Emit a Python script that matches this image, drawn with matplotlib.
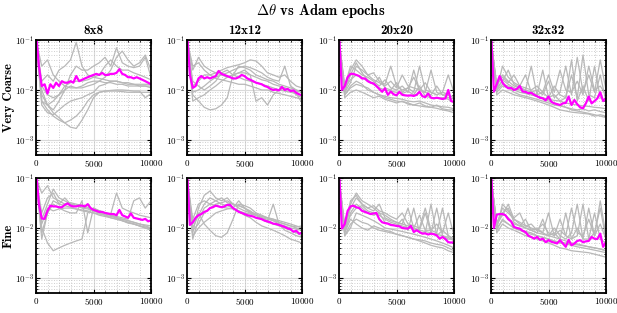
import numpy as np
import matplotlib.pyplot as plt
from matplotlib.ticker import LogLocator, MultipleLocator, NullFormatter

plt.rcParams['font.family'] = 'serif'
plt.rcParams['font.serif'] = ['cmr10']
plt.rcParams['mathtext.fontset'] = 'cm'
plt.rcParams['axes.formatter.use_mathtext'] = True

# epochs for the mean curve (every 250) and the single runs (every 500)
epochs_mean = np.arange(0, 10001, 250)
epochs_run = np.arange(0, 10001, 500)

grids = ["8x8", "12x12", "20x20", "32x32"]
levels = ["Very Coarse", "Fine"]

#%% Very Coarse
mean_8_vc = [0.15, 0.03, 0.012, 0.013, 0.0085, 0.013, 0.011, 0.014, 0.012, 0.015, 0.014, 0.014,
             0.015, 0.014, 0.019, 0.015, 0.016, 0.017, 0.018, 0.019, 0.020, 0.021, 0.020, 0.022,
             0.020, 0.020, 0.021, 0.021, 0.022, 0.026, 0.021, 0.020, 0.018, 0.018, 0.017, 0.018,
             0.017, 0.016, 0.015, 0.014, 0.013]
runs_8_vc = [
    [0.1, 0.006, 0.004, 0.003, 0.0025, 0.0022, 0.0025, 0.003, 0.004, 0.006, 0.008, 0.009, 0.0095, 0.0095, 0.0095, 0.0093, 0.009, 0.009, 0.009, 0.009, 0.009],
    [0.1, 0.008, 0.005, 0.0035, 0.0028, 0.0022, 0.0018, 0.0017, 0.0025, 0.004, 0.007, 0.009, 0.0095, 0.0098, 0.01, 0.01, 0.0098, 0.0095, 0.0095, 0.007, 0.0085],
    [0.1, 0.015, 0.02, 0.015, 0.025, 0.03, 0.04, 0.09, 0.03, 0.02, 0.018, 0.017, 0.016, 0.015, 0.015, 0.014, 0.013, 0.013, 0.012, 0.012, 0.011],
    [0.1, 0.01, 0.005, 0.004, 0.006, 0.01, 0.02, 0.03, 0.025, 0.025, 0.03, 0.035, 0.045, 0.03, 0.07, 0.035, 0.03, 0.028, 0.03, 0.045, 0.018],
    [0.1, 0.006, 0.005, 0.006, 0.008, 0.012, 0.014, 0.015, 0.015, 0.016, 0.018, 0.02, 0.03, 0.04, 0.03, 0.025, 0.025, 0.022, 0.02, 0.018, 0.016],
    [0.1, 0.012, 0.008, 0.007, 0.008, 0.01, 0.012, 0.011, 0.012, 0.014, 0.015, 0.015, 0.014, 0.014, 0.013, 0.013, 0.012, 0.012, 0.012, 0.012, 0.012],
    [0.1, 0.03, 0.04, 0.02, 0.015, 0.012, 0.011, 0.011, 0.011, 0.012, 0.013, 0.015, 0.018, 0.025, 0.045, 0.06, 0.04, 0.03, 0.035, 0.05, 0.025],
    [0.1, 0.005, 0.0035, 0.0032, 0.004, 0.005, 0.006, 0.0065, 0.007, 0.008, 0.009, 0.012, 0.013, 0.015, 0.015, 0.014, 0.014, 0.013, 0.013, 0.013, 0.013],
]

mean_12_vc = [0.15, 0.02, 0.011, 0.012, 0.017, 0.019, 0.017, 0.018, 0.017, 0.018, 0.019, 0.024,
              0.021, 0.020, 0.019, 0.018, 0.017, 0.017, 0.018, 0.020, 0.019, 0.017, 0.016, 0.015,
              0.014, 0.0135, 0.013, 0.012, 0.0115, 0.0105, 0.010, 0.0102, 0.0098, 0.0115, 0.0100,
              0.0105, 0.0095, 0.0098, 0.0088, 0.0082, 0.0078]
runs_12_vc = [
    [0.1, 0.008, 0.006, 0.0045, 0.004, 0.0042, 0.005, 0.007, 0.02, 0.03, 0.028, 0.025, 0.02, 0.018, 0.016, 0.015, 0.013, 0.012, 0.011, 0.01, 0.009],
    [0.1, 0.012, 0.015, 0.02, 0.02, 0.022, 0.025, 0.028, 0.03, 0.032, 0.035, 0.04, 0.038, 0.03, 0.022, 0.02, 0.018, 0.02, 0.015, 0.012, 0.011],
    [0.1, 0.025, 0.045, 0.03, 0.025, 0.022, 0.02, 0.018, 0.02, 0.022, 0.025, 0.02, 0.006, 0.007, 0.005, 0.008, 0.01, 0.011, 0.01, 0.008, 0.007],
    [0.1, 0.009, 0.01, 0.012, 0.015, 0.018, 0.02, 0.022, 0.025, 0.028, 0.03, 0.028, 0.025, 0.022, 0.018, 0.016, 0.015, 0.03, 0.012, 0.01, 0.009],
    [0.1, 0.03, 0.035, 0.025, 0.02, 0.017, 0.016, 0.015, 0.014, 0.013, 0.013, 0.012, 0.011, 0.01, 0.01, 0.009, 0.0085, 0.008, 0.0075, 0.007, 0.0065],
    [0.1, 0.015, 0.012, 0.01, 0.012, 0.015, 0.022, 0.025, 0.02, 0.018, 0.016, 0.015, 0.014, 0.013, 0.012, 0.011, 0.01, 0.0095, 0.009, 0.0085, 0.0055],
    [0.1, 0.006, 0.007, 0.008, 0.01, 0.012, 0.015, 0.018, 0.02, 0.022, 0.022, 0.02, 0.018, 0.016, 0.015, 0.013, 0.012, 0.011, 0.01, 0.0095, 0.009],
]

mean_20_vc = [0.15, 0.010, 0.012, 0.018, 0.021, 0.021, 0.020, 0.019, 0.017, 0.017, 0.015, 0.014,
              0.0135, 0.012, 0.0105, 0.0092, 0.0108, 0.0080, 0.0093, 0.0082, 0.0078, 0.0092, 0.0080,
              0.0078, 0.0077, 0.0078, 0.0076, 0.0080, 0.0092, 0.0075, 0.0072, 0.0085, 0.0070,
              0.0068, 0.0070, 0.0068, 0.0066, 0.0068, 0.0100, 0.0060, 0.0058]
runs_20_vc = [
    [0.1, 0.012, 0.03, 0.025, 0.02, 0.018, 0.015, 0.012, 0.016, 0.011, 0.01, 0.012, 0.009, 0.025, 0.01, 0.009, 0.008, 0.012, 0.008, 0.007, 0.0065],
    [0.1, 0.009, 0.02, 0.035, 0.022, 0.016, 0.013, 0.018, 0.011, 0.01, 0.014, 0.009, 0.011, 0.009, 0.03, 0.01, 0.009, 0.008, 0.009, 0.02, 0.009],
    [0.1, 0.008, 0.011, 0.013, 0.012, 0.011, 0.009, 0.008, 0.007, 0.0065, 0.006, 0.0058, 0.0055, 0.005, 0.0048, 0.0046, 0.0045, 0.0043, 0.004, 0.0038, 0.0035],
    [0.1, 0.01, 0.025, 0.04, 0.03, 0.02, 0.016, 0.014, 0.012, 0.015, 0.011, 0.02, 0.012, 0.011, 0.01, 0.009, 0.025, 0.009, 0.008, 0.008, 0.007],
    [0.1, 0.007, 0.009, 0.01, 0.009, 0.008, 0.007, 0.0075, 0.0065, 0.006, 0.0055, 0.006, 0.0052, 0.005, 0.0055, 0.0048, 0.0045, 0.005, 0.0042, 0.004, 0.004],
    [0.1, 0.011, 0.016, 0.02, 0.018, 0.015, 0.013, 0.011, 0.01, 0.0095, 0.009, 0.0085, 0.0095, 0.008, 0.012, 0.0075, 0.007, 0.0068, 0.007, 0.0065, 0.0055],
    [0.1, 0.009, 0.014, 0.03, 0.025, 0.02, 0.022, 0.015, 0.013, 0.03, 0.012, 0.01, 0.011, 0.018, 0.01, 0.014, 0.009, 0.008, 0.009, 0.008, 0.007],
    [0.1, 0.008, 0.012, 0.015, 0.013, 0.01, 0.009, 0.008, 0.0075, 0.007, 0.0068, 0.0065, 0.006, 0.0058, 0.006, 0.0055, 0.005, 0.0048, 0.0046, 0.0045, 0.0042],
]

mean_32_vc = [0.15, 0.0093, 0.013, 0.019, 0.014, 0.012, 0.0108, 0.011, 0.0100, 0.0105, 0.0120,
              0.0093, 0.0092, 0.0086, 0.0088, 0.0080, 0.0075, 0.0070, 0.0068, 0.0062, 0.0074,
              0.0058, 0.0054, 0.0052, 0.0050, 0.0054, 0.0055, 0.0074, 0.0050, 0.0063, 0.0052,
              0.0045, 0.0043, 0.0054, 0.0074, 0.0054, 0.0060, 0.0068, 0.0090, 0.0060, 0.0068]
runs_32_vc = [
    [0.1, 0.012, 0.02, 0.015, 0.012, 0.011, 0.01, 0.009, 0.008, 0.025, 0.007, 0.008, 0.006, 0.007, 0.04, 0.006, 0.012, 0.006, 0.03, 0.007, 0.006],
    [0.1, 0.01, 0.03, 0.018, 0.014, 0.012, 0.02, 0.009, 0.01, 0.008, 0.015, 0.007, 0.009, 0.03, 0.008, 0.045, 0.009, 0.02, 0.009, 0.04, 0.01],
    [0.1, 0.008, 0.01, 0.009, 0.008, 0.0075, 0.007, 0.0065, 0.006, 0.0055, 0.005, 0.0045, 0.004, 0.0038, 0.0036, 0.0035, 0.0034, 0.0033, 0.003, 0.0032, 0.003],
    [0.1, 0.011, 0.015, 0.025, 0.013, 0.011, 0.01, 0.03, 0.008, 0.009, 0.007, 0.012, 0.008, 0.007, 0.02, 0.007, 0.05, 0.008, 0.007, 0.02, 0.006],
    [0.1, 0.009, 0.012, 0.011, 0.009, 0.008, 0.0075, 0.007, 0.0065, 0.006, 0.0055, 0.005, 0.0048, 0.0045, 0.0042, 0.004, 0.0042, 0.0038, 0.004, 0.0037, 0.0035],
    [0.1, 0.013, 0.018, 0.014, 0.02, 0.012, 0.011, 0.01, 0.012, 0.009, 0.02, 0.009, 0.025, 0.01, 0.009, 0.015, 0.008, 0.03, 0.01, 0.012, 0.008],
    [0.1, 0.01, 0.013, 0.012, 0.01, 0.009, 0.0085, 0.008, 0.0075, 0.007, 0.0065, 0.0062, 0.006, 0.0055, 0.0052, 0.005, 0.0048, 0.0047, 0.0045, 0.0044, 0.0042],
    [0.1, 0.01, 0.016, 0.013, 0.011, 0.01, 0.009, 0.008, 0.0075, 0.007, 0.006, 0.0055, 0.005, 0.0045, 0.004, 0.0038, 0.0036, 0.0034, 0.0032, 0.003, 0.0028],
]

#%% Fine
mean_8_f = [0.15, 0.03, 0.0155, 0.0152, 0.022, 0.028, 0.027, 0.027, 0.026, 0.026, 0.029, 0.031,
            0.028, 0.027, 0.027, 0.028, 0.028, 0.027, 0.030, 0.025, 0.023, 0.022, 0.021, 0.021,
            0.020, 0.0195, 0.019, 0.019, 0.018, 0.023, 0.018, 0.017, 0.016, 0.0195, 0.016, 0.0155,
            0.015, 0.0145, 0.0152, 0.0136, 0.0142]
runs_8_f = [
    [0.1, 0.01, 0.005, 0.0035, 0.004, 0.0045, 0.005, 0.0055, 0.006, 0.02, 0.025, 0.022, 0.02, 0.018, 0.016, 0.015, 0.014, 0.013, 0.012, 0.011, 0.01],
    [0.1, 0.006, 0.02, 0.03, 0.025, 0.022, 0.02, 0.02, 0.035, 0.008, 0.025, 0.022, 0.02, 0.018, 0.016, 0.014, 0.013, 0.012, 0.011, 0.01, 0.009],
    [0.1, 0.05, 0.07, 0.04, 0.035, 0.03, 0.032, 0.03, 0.028, 0.026, 0.024, 0.022, 0.02, 0.019, 0.05, 0.025, 0.022, 0.02, 0.018, 0.017, 0.016],
    [0.1, 0.015, 0.03, 0.06, 0.04, 0.035, 0.03, 0.028, 0.025, 0.024, 0.022, 0.02, 0.019, 0.018, 0.017, 0.016, 0.015, 0.035, 0.04, 0.025, 0.035],
    [0.1, 0.012, 0.025, 0.022, 0.024, 0.025, 0.025, 0.024, 0.023, 0.022, 0.02, 0.019, 0.018, 0.016, 0.015, 0.014, 0.013, 0.012, 0.011, 0.0105, 0.01],
    [0.1, 0.02, 0.04, 0.05, 0.03, 0.04, 0.03, 0.028, 0.026, 0.025, 0.022, 0.02, 0.018, 0.017, 0.016, 0.015, 0.014, 0.013, 0.012, 0.0115, 0.011],
    [0.1, 0.008, 0.02, 0.035, 0.03, 0.028, 0.026, 0.024, 0.022, 0.021, 0.02, 0.018, 0.017, 0.016, 0.015, 0.014, 0.0125, 0.012, 0.011, 0.01, 0.0095],
]

mean_12_f = [0.15, 0.0115, 0.013, 0.016, 0.018, 0.019, 0.021, 0.022, 0.025, 0.026, 0.028, 0.027,
             0.026, 0.027, 0.029, 0.029, 0.025, 0.023, 0.021, 0.020, 0.019, 0.018, 0.0175, 0.017,
             0.016, 0.0155, 0.015, 0.014, 0.0135, 0.013, 0.0122, 0.012, 0.0115, 0.011, 0.0105,
             0.0098, 0.0095, 0.0084, 0.0088, 0.0077, 0.0080]
runs_12_f = [
    [0.1, 0.012, 0.02, 0.012, 0.009, 0.007, 0.0065, 0.008, 0.015, 0.03, 0.028, 0.025, 0.02, 0.018, 0.016, 0.015, 0.013, 0.012, 0.011, 0.01, 0.009],
    [0.1, 0.008, 0.025, 0.045, 0.055, 0.04, 0.035, 0.04, 0.03, 0.025, 0.022, 0.02, 0.018, 0.015, 0.013, 0.012, 0.011, 0.01, 0.009, 0.008, 0.007],
    [0.1, 0.009, 0.012, 0.02, 0.025, 0.03, 0.032, 0.035, 0.03, 0.028, 0.025, 0.022, 0.018, 0.016, 0.014, 0.03, 0.012, 0.009, 0.008, 0.007, 0.0065],
    [0.1, 0.006, 0.015, 0.025, 0.03, 0.035, 0.04, 0.032, 0.03, 0.028, 0.025, 0.02, 0.018, 0.016, 0.015, 0.014, 0.012, 0.011, 0.01, 0.0095, 0.009],
    [0.1, 0.01, 0.018, 0.03, 0.04, 0.035, 0.03, 0.028, 0.025, 0.035, 0.025, 0.021, 0.019, 0.017, 0.016, 0.015, 0.014, 0.013, 0.012, 0.011, 0.01],
    [0.1, 0.007, 0.01, 0.013, 0.016, 0.02, 0.022, 0.024, 0.025, 0.022, 0.018, 0.016, 0.013, 0.011, 0.01, 0.009, 0.008, 0.007, 0.006, 0.0055, 0.005],
    [0.1, 0.015, 0.03, 0.035, 0.03, 0.028, 0.026, 0.025, 0.024, 0.022, 0.02, 0.019, 0.018, 0.017, 0.016, 0.014, 0.013, 0.012, 0.011, 0.0105, 0.011],
]

mean_20_f = [0.15, 0.0097, 0.012, 0.022, 0.027, 0.028, 0.026, 0.025, 0.022, 0.021, 0.020, 0.019,
             0.0195, 0.020, 0.015, 0.013, 0.0125, 0.0122, 0.0115, 0.0113, 0.011, 0.0108, 0.0100,
             0.0098, 0.0097, 0.0110, 0.0083, 0.0090, 0.0083, 0.0077, 0.0078, 0.0074, 0.0077,
             0.0075, 0.0071, 0.0061, 0.0066, 0.0060, 0.0052, 0.0051, 0.0052]
runs_20_f = [
    [0.1, 0.009, 0.03, 0.05, 0.035, 0.03, 0.025, 0.02, 0.018, 0.015, 0.013, 0.012, 0.025, 0.01, 0.009, 0.02, 0.008, 0.025, 0.007, 0.006, 0.006],
    [0.1, 0.008, 0.02, 0.03, 0.025, 0.02, 0.018, 0.02, 0.013, 0.012, 0.011, 0.015, 0.009, 0.025, 0.008, 0.008, 0.03, 0.007, 0.009, 0.007, 0.006],
    [0.1, 0.007, 0.012, 0.015, 0.013, 0.012, 0.01, 0.009, 0.0085, 0.008, 0.0075, 0.007, 0.0065, 0.006, 0.0055, 0.005, 0.0045, 0.0042, 0.004, 0.0035, 0.0032],
    [0.1, 0.01, 0.025, 0.04, 0.03, 0.025, 0.022, 0.03, 0.016, 0.014, 0.013, 0.012, 0.011, 0.01, 0.018, 0.009, 0.009, 0.008, 0.025, 0.007, 0.006],
    [0.1, 0.007, 0.01, 0.02, 0.018, 0.016, 0.014, 0.012, 0.01, 0.0095, 0.009, 0.0085, 0.008, 0.0075, 0.007, 0.0065, 0.006, 0.0055, 0.005, 0.0045, 0.004],
    [0.1, 0.009, 0.018, 0.025, 0.028, 0.022, 0.02, 0.018, 0.015, 0.013, 0.012, 0.011, 0.01, 0.0095, 0.009, 0.0085, 0.008, 0.0075, 0.007, 0.0065, 0.0055],
    [0.1, 0.008, 0.015, 0.012, 0.01, 0.009, 0.011, 0.01, 0.009, 0.0085, 0.0075, 0.007, 0.0065, 0.006, 0.0058, 0.0055, 0.005, 0.0047, 0.0045, 0.004, 0.0035],
    [0.1, 0.011, 0.035, 0.045, 0.03, 0.025, 0.028, 0.022, 0.02, 0.017, 0.015, 0.02, 0.012, 0.011, 0.01, 0.025, 0.009, 0.012, 0.008, 0.02, 0.007],
]

mean_32_f = [0.15, 0.0100, 0.0185, 0.0190, 0.0190, 0.0180, 0.0150, 0.0135, 0.0105, 0.0100, 0.0097,
             0.0088, 0.0083, 0.0070, 0.0066, 0.0061, 0.0066, 0.0058, 0.0061, 0.0052, 0.0057,
             0.0053, 0.0051, 0.0049, 0.0057, 0.0049, 0.0042, 0.0058, 0.0045, 0.0049, 0.0055,
             0.0057, 0.0052, 0.0054, 0.0055, 0.0066, 0.0061, 0.0060, 0.0077, 0.0042, 0.0052]
runs_32_f = [
    [0.1, 0.012, 0.025, 0.02, 0.015, 0.012, 0.01, 0.009, 0.008, 0.015, 0.007, 0.008, 0.006, 0.02, 0.006, 0.007, 0.03, 0.006, 0.008, 0.025, 0.006],
    [0.1, 0.01, 0.03, 0.022, 0.016, 0.02, 0.011, 0.01, 0.009, 0.008, 0.02, 0.007, 0.009, 0.007, 0.025, 0.008, 0.007, 0.015, 0.007, 0.035, 0.007],
    [0.1, 0.008, 0.012, 0.01, 0.009, 0.008, 0.007, 0.0065, 0.006, 0.0055, 0.005, 0.0045, 0.004, 0.0038, 0.0035, 0.0034, 0.0033, 0.0032, 0.003, 0.0028, 0.0026],
    [0.1, 0.011, 0.02, 0.025, 0.013, 0.011, 0.015, 0.009, 0.01, 0.008, 0.007, 0.01, 0.007, 0.006, 0.008, 0.03, 0.006, 0.006, 0.02, 0.006, 0.005],
    [0.1, 0.009, 0.015, 0.012, 0.01, 0.009, 0.008, 0.0075, 0.007, 0.0065, 0.006, 0.0055, 0.005, 0.0048, 0.0045, 0.0042, 0.004, 0.0038, 0.0036, 0.0034, 0.0032],
    [0.1, 0.012, 0.018, 0.03, 0.015, 0.013, 0.011, 0.012, 0.009, 0.012, 0.008, 0.007, 0.015, 0.007, 0.006, 0.01, 0.006, 0.025, 0.007, 0.012, 0.006],
    [0.1, 0.01, 0.014, 0.012, 0.01, 0.009, 0.0085, 0.008, 0.007, 0.0065, 0.006, 0.0055, 0.0052, 0.005, 0.0048, 0.0046, 0.0044, 0.0042, 0.004, 0.0038, 0.0035],
    [0.1, 0.013, 0.02, 0.016, 0.012, 0.011, 0.01, 0.009, 0.008, 0.0075, 0.007, 0.0065, 0.006, 0.0055, 0.005, 0.0048, 0.0045, 0.0042, 0.004, 0.0038, 0.0035],
]

means = [[mean_8_vc, mean_12_vc, mean_20_vc, mean_32_vc],
         [mean_8_f, mean_12_f, mean_20_f, mean_32_f]]
runs = [[runs_8_vc, runs_12_vc, runs_20_vc, runs_32_vc],
        [runs_8_f, runs_12_f, runs_20_f, runs_32_f]]

#%% figure
fig = plt.figure(figsize=(6.17, 3.13), dpi=100)
W, H = 617.0, 313.0
lefts = [36, 187, 339, 491]
width = 115
tops = [40, 178]
height = 115

for r in range(2):
    for c in range(4):
        ax = fig.add_axes([lefts[c] / W, 1 - (tops[r] + height) / H, width / W, height / H])
        for run in runs[r][c]:
            ax.plot(epochs_run, run, color=(0.72, 0.72, 0.72), lw=0.9)
        ax.plot(epochs_mean, means[r][c], color="#FF00FF", lw=1.6)
        ax.set_yscale("log")
        ax.set_ylim(5e-4, 1e-1)
        ax.set_xlim(0, 10000)
        ax.set_xticks([0, 5000, 10000])
        ax.xaxis.set_minor_locator(MultipleLocator(1000))
        ax.yaxis.set_major_locator(LogLocator(base=10, numticks=10))
        ax.yaxis.set_minor_locator(LogLocator(base=10, subs=np.arange(2, 10), numticks=10))
        ax.yaxis.set_minor_formatter(NullFormatter())
        ax.grid(True, which="major", color=(0.85, 0.85, 0.85), lw=0.8)
        ax.grid(True, which="minor", color=(0.75, 0.75, 0.75), lw=0.6, ls=(0, (1, 2)))
        ax.set_axisbelow(True)
        ax.tick_params(which="both", direction="in", top=True, right=True, labelsize=6.5, pad=2)
        ax.tick_params(axis="y", pad=1.5)
        ax.tick_params(which="major", length=3)
        ax.tick_params(which="minor", length=1.5)
        for s in ax.spines.values():
            s.set_linewidth(1.3)
        if r == 0:
            ax.set_title(grids[c], fontsize=9.5, fontfamily="cmb10", pad=4)

# row labels
for r in range(2):
    fig.text(9 / W, 1 - (tops[r] + height / 2) / H, levels[r], rotation=90,
             ha="center", va="center", fontsize=9, fontfamily="cmb10")

fig.text(0.52, 0.965, r"$\Delta\theta$ vs Adam epochs", ha="center", va="center",
         fontsize=10.5, fontfamily="cmb10")

fig.savefig("out.png", dpi=100)
